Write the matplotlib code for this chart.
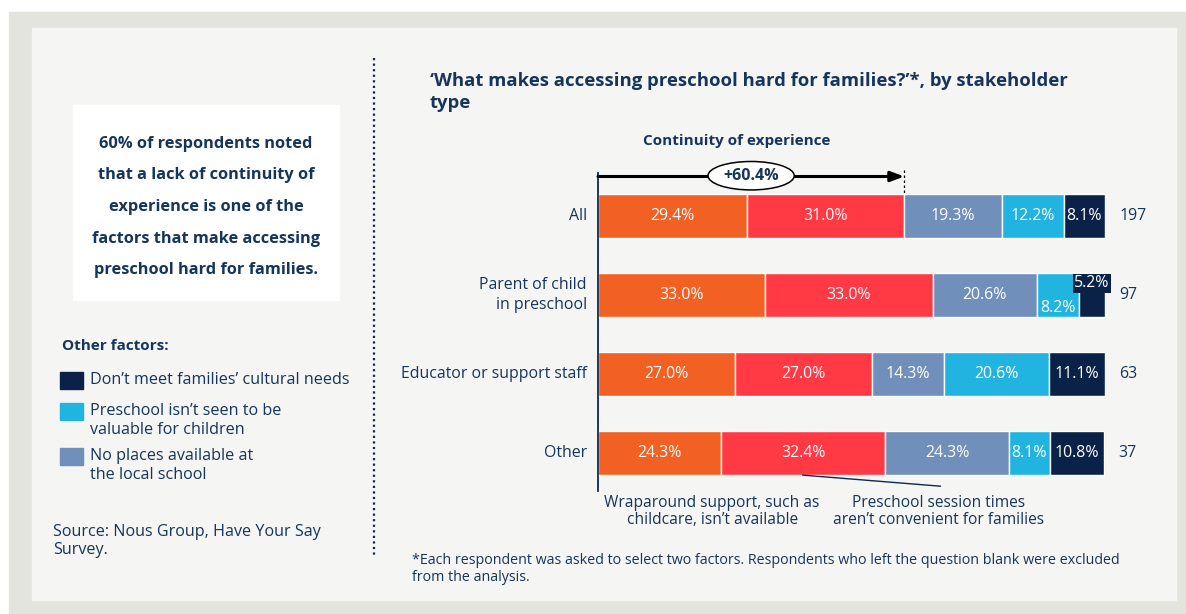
import matplotlib.pyplot as plt
from matplotlib.patches import Rectangle, Ellipse

plt.rcParams['font.family'] = ['Open Sans', 'Noto Sans', 'DejaVu Sans']

NAVY = '#0c2a50'
TEXT = '#15355c'

groups = ['All', 'Parent of child\nin preschool', 'Educator or support staff', 'Other']
counts = [197, 97, 63, 37]
factors = ['Wraparound support, such as childcare, isn\u2019t available',
           'Preschool session times aren\u2019t convenient for families',
           'No places available at the local school',
           'Preschool isn\u2019t seen to be valuable for children',
           'Don\u2019t meet families\u2019 cultural needs']
colors = ['#f26024', '#ff3a45', '#708fbb', '#22b4e0', '#0b2248']
values = [
    [29.4, 31.0, 19.3, 12.2, 8.1],
    [33.0, 33.0, 20.6, 8.2, 5.2],
    [27.0, 27.0, 14.3, 20.6, 11.1],
    [24.3, 32.4, 24.3, 8.1, 10.8],
]

W, H = 1186, 614
fig = plt.figure(figsize=(W / 100, H / 100), dpi=100)
fig.patch.set_facecolor('white')

# page furniture, in pixel coordinates
bg = fig.add_axes([0, 0, 1, 1])
bg.set_xlim(0, W)
bg.set_ylim(H, 0)
bg.axis('off')
bg.add_patch(Rectangle((9, 12), W - 9, H - 12, color='#e4e4df', zorder=0))
bg.add_patch(Rectangle((32, 28), 1144, 572, color='#f5f5f3', zorder=1))
bg.add_patch(Rectangle((73, 105), 266, 195, color='white', zorder=2))
bg.plot([374, 374], [58, 557], color=NAVY, lw=1.6, ls=(0, (1, 1.5)), zorder=2)

bg.text(206, 207, '60% of respondents noted\nthat a lack of continuity of\nexperience is one of the\n'
        'factors that make accessing\npreschool hard for families.',
        ha='center', va='center', fontsize=11.8, fontweight='bold', color=TEXT,
        linespacing=2.3, zorder=3)

bg.text(62, 346, 'Other factors:', fontsize=11, fontweight='bold', color=TEXT, va='center')
legend_rows = [(380, 4, 'Don\u2019t meet families\u2019 cultural needs'),
               (411, 3, 'Preschool isn\u2019t seen to be\nvaluable for children'),
               (456, 2, 'No places available at\nthe local school')]
for y, idx, label in legend_rows:
    bg.add_patch(Rectangle((60, y - 8), 23, 17, color=colors[idx], zorder=3))
    bg.text(90, y - 8, label, fontsize=11.6, color=TEXT, va='top', linespacing=1.22)

bg.text(53, 524, 'Source: Nous Group, Have Your Say\nSurvey.', fontsize=11.6, color=TEXT,
        va='top', linespacing=1.15)

bg.text(430, 92, '\u2018What makes accessing preschool hard for families?\u2019*, by stakeholder\ntype',
        fontsize=13.3, fontweight='bold', color=TEXT, va='center', linespacing=1.35)
bg.text(737, 141, 'Continuity of experience', fontsize=11, fontweight='bold', color=TEXT,
        ha='center', va='center')

bg.text(412, 569, '*Each respondent was asked to select two factors. Respondents who left the question '
        'blank were excluded\nfrom the analysis.', fontsize=10.3, color=TEXT, va='center',
        linespacing=1.15)

# stacked bars
x0, x1 = 598, 1105
top, bot = 150, 510
ax = fig.add_axes([x0 / W, 1 - bot / H, (x1 - x0) / W, (bot - top) / H])
ax.set_xlim(0, 100)
step = 79
ax.set_ylim(3 + (bot - 453) / step, -(216 - top) / step)
ax.axis('off')
ax.patch.set_alpha(0)

for i, row in enumerate(values):
    left = 0
    for j, v in enumerate(row):
        ax.barh(i, v, left=left, height=0.56, color=colors[j], edgecolor='white', lw=1, zorder=2)
        lbl = f'{v:.1f}%'
        cx = left + v / 2
        if i == 1 and j == 3:
            ax.text(cx, i + 0.16, lbl, ha='center', va='center', fontsize=11.4, color='white', zorder=4)
        elif i == 1 and j == 4:
            ax.text(cx, i - 0.15, lbl, ha='center', va='center', fontsize=11.4, color='white', zorder=4,
                    bbox=dict(boxstyle='square,pad=0.1', fc=colors[4], ec='none'))
        else:
            ax.text(cx, i, lbl, ha='center', va='center', fontsize=11.4, color='white', zorder=4)
        left += v
    ax.text(left + 2.8, i, str(counts[i]), ha='left', va='center', fontsize=11.4, color=TEXT)
    ax.text(-2.2, i, groups[i], ha='right', va='center', fontsize=11.4, color=TEXT, linespacing=1.3)

# continuity bracket
cont = values[0][0] + values[0][1]
ax.plot([0, 0], [-0.55, 3.48], color=NAVY, lw=1.3, zorder=3, clip_on=False)
ax.annotate('', xy=(cont, -0.5), xytext=(0, -0.5),
            arrowprops=dict(arrowstyle='-|>,head_length=0.8,head_width=0.3', color='black', lw=2.2,
                            shrinkA=0, shrinkB=0), zorder=3)
ax.plot([cont, cont], [-0.58, -0.28], color='black', lw=0.9, ls=(0, (2, 2)), zorder=3)
ax.add_patch(Ellipse((30.2, -0.51), 17, 0.36, fc='white', ec='black', lw=1.1, zorder=4))
ax.text(30.2, -0.51, f'+{cont:.1f}%', ha='center', va='center', fontsize=11.5, fontweight='bold',
        color=TEXT, zorder=5)

# callouts under the last bar
ax.plot([40.4, 67.5], [3.28, 3.42], color=NAVY, lw=1, clip_on=False)
ax.text(22.5, 3.74, 'Wraparound support, such as\nchildcare, isn\u2019t available', ha='center',
        va='center', fontsize=11.2, color=TEXT, linespacing=1.15)
ax.text(67.2, 3.74, 'Preschool session times\naren\u2019t convenient for families', ha='center',
        va='center', fontsize=11.2, color=TEXT, linespacing=1.15)

fig.savefig('out.png', dpi=100)
